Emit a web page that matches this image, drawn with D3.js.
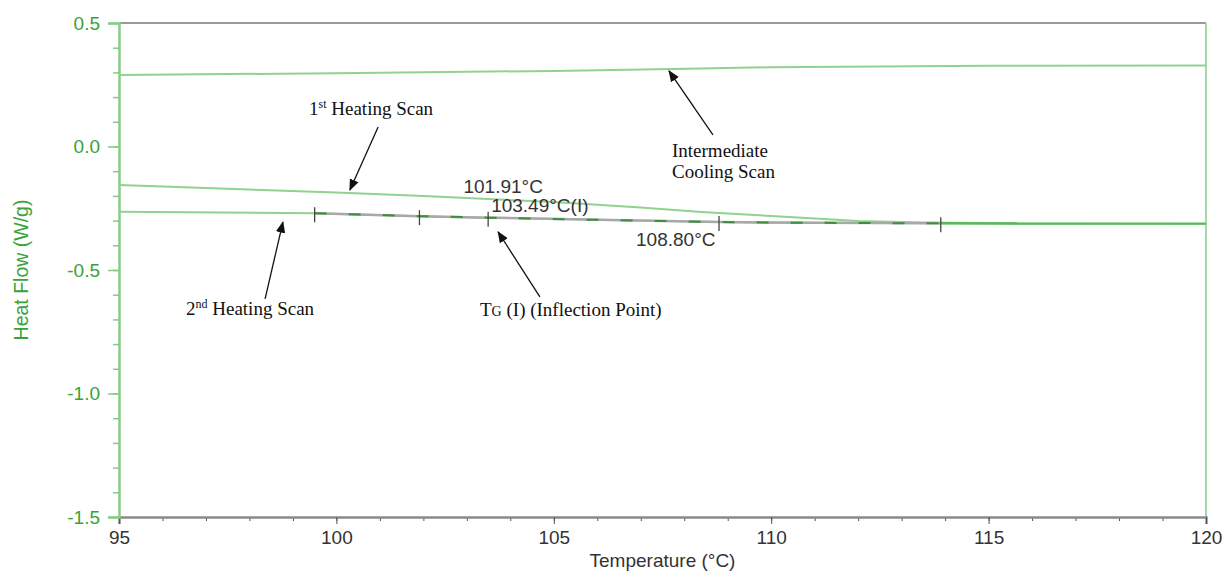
<!DOCTYPE html>
<html>
<head>
<meta charset="utf-8">
<script src="https://cdn.jsdelivr.net/npm/d3@7"></script>
<style>
  body { margin: 0; background: #fff; }
  svg { display: block; }
</style>
</head>
<body>
<svg id="chart"></svg>
<script>
const width = 1227;
const height = 574;
const margin = {top: 23, right: 21, bottom: 57, left: 119};

// temperatures (°C) and heat flow (W/g)
const coolT = [95, 100, 105, 108.4, 110, 115, 120];
const coolV = [0.289, 0.297, 0.306, 0.316, 0.321, 0.327, 0.328];

const heat1T = [95, 100, 102, 105, 107, 108.4, 110, 112, 113.5, 115, 120];
const heat1V = [-0.156, -0.186, -0.200, -0.225, -0.247, -0.265, -0.281, -0.302, -0.308, -0.310, -0.312];

const heat2T = [95, 99.5, 101.91, 103.49, 106, 108.8, 111, 113.9, 120];
const heat2V = [-0.264, -0.270, -0.282, -0.288, -0.297, -0.306, -0.309, -0.311, -0.312];

// analysis markers on the 2nd heating scan
const markT = [99.5, 101.91, 103.49, 108.8, 113.9];
const markLabels = [
  {t: 101.91, text: '101.91°C', dx: 44, dy: -23},
  {t: 103.49, text: '103.49°C(I)', dx: 3, dy: -6},
  {t: 108.8, text: '108.80°C', dx: -83, dy: 24}
];

const yMajor = [0.5, 0.0, -0.5, -1.0, -1.5];
const xMajor = [95, 100, 105, 110, 115, 120];

const green = '#8fd38f';
const axisGreen = '#86cc86';
const labelGreen = '#3aa23a';
const sans = '19px Arial, "Liberation Sans", sans-serif';

const svg = d3.select('#chart').attr('width', width).attr('height', height);

const x = d3.scaleLinear().domain([95, 120]).range([margin.left, width - margin.right]);
const y = d3.scaleLinear().domain([-1.5, 0.5]).range([height - margin.bottom, margin.top]);

const defs = svg.append('defs');
defs.append('marker').attr('id', 'arr')
  .attr('viewBox', '0 0 10 10').attr('refX', 9).attr('refY', 5)
  .attr('markerWidth', 9).attr('markerHeight', 9).attr('orient', 'auto')
  .append('path').attr('d', 'M0,1 L10,5 L0,9 Z').attr('fill', '#111');

// frame
svg.append('line').attr('x1', x(95)).attr('x2', x(120)).attr('y1', y(0.5)).attr('y2', y(0.5))
  .attr('stroke', '#9a9a9a').attr('stroke-width', 2);
svg.append('line').attr('x1', x(120)).attr('x2', x(120)).attr('y1', y(0.5)).attr('y2', y(-1.5))
  .attr('stroke', axisGreen).attr('stroke-width', 1.5);

// x axis
const xAxisG = svg.append('g').attr('transform', `translate(0, ${y(-1.5)})`);
xAxisG.call(d3.axisBottom(x).tickValues(d3.range(95, 121, 1)).tickSize(4).tickFormat(''));
xAxisG.call(g => g.selectAll('.tick line').attr('stroke', '#555'));
xAxisG.select('.domain').remove();
const xMajG = svg.append('g').attr('transform', `translate(0, ${y(-1.5)})`);
xMajG.call(d3.axisBottom(x).tickValues(xMajor).tickSize(7).tickPadding(7).tickFormat(d3.format('d')));
xMajG.select('.domain').attr('stroke', '#8a8a8a').attr('stroke-width', 2.5);
xMajG.selectAll('.tick line').attr('stroke', '#555');
xMajG.selectAll('.tick text').attr('fill', '#333').style('font', sans);

// y axis
const yMinG = svg.append('g').attr('transform', `translate(${x(95)}, 0)`);
yMinG.call(d3.axisLeft(y).tickValues(d3.range(-15, 6, 1).map(d => d / 10)).tickSize(6).tickFormat(''));
yMinG.select('.domain').remove();
yMinG.selectAll('.tick line').attr('stroke', axisGreen).attr('stroke-width', 1.5);
const yAxisG = svg.append('g').attr('transform', `translate(${x(95)}, 0)`);
yAxisG.call(d3.axisLeft(y).tickValues(yMajor).tickSize(11).tickPadding(8).tickFormat(d => d.toFixed(1)));
yAxisG.select('.domain').attr('stroke', axisGreen).attr('stroke-width', 2.5);
yAxisG.selectAll('.tick line').attr('stroke', axisGreen).attr('stroke-width', 1.5);
yAxisG.selectAll('.tick text').attr('fill', labelGreen).style('font', sans);

// axis titles
svg.append('text').attr('x', x(107.5)).attr('y', 567).attr('text-anchor', 'middle')
  .attr('fill', '#333').style('font', sans)
  .text('Temperature (°C)');
svg.append('text').attr('transform', `translate(28, ${y(-0.5)}) rotate(-90)`).attr('text-anchor', 'middle')
  .attr('fill', labelGreen).style('font', '19.5px Arial, "Liberation Sans", sans-serif')
  .text('Heat Flow (W/g)');

const line = d3.line().x(d => x(d[0])).y(d => y(d[1]));
const zip = (a, b) => a.map((t, i) => [t, b[i]]);

// curves
svg.append('path').datum(zip(coolT, coolV)).attr('d', line)
  .attr('fill', 'none').attr('stroke', green).attr('stroke-width', 2);
svg.append('path').datum(zip(heat1T, heat1V)).attr('d', line)
  .attr('fill', 'none').attr('stroke', green).attr('stroke-width', 2);

const heat2 = zip(heat2T, heat2V);
svg.append('path').datum(heat2).attr('d', line)
  .attr('fill', 'none').attr('stroke', green).attr('stroke-width', 2);

// analysis baseline and markers
const seg = heat2.filter(d => d[0] >= 99.5 && d[0] <= 113.9);
svg.append('path').datum(seg).attr('d', line)
  .attr('fill', 'none').attr('stroke', '#a8a8a8').attr('stroke-width', 2.5);
svg.append('path').datum(seg).attr('d', line)
  .attr('fill', 'none').attr('stroke', '#3d8f3d').attr('stroke-width', 2)
  .attr('stroke-dasharray', '12,22');
svg.append('path').datum(heat2.filter(d => d[0] >= 113.9)).attr('d', line)
  .attr('fill', 'none').attr('stroke', '#5cb85c').attr('stroke-width', 2.5);

const interp = d3.scaleLinear().domain(heat2T).range(heat2V);
svg.append('g').selectAll('line').data(markT).enter().append('line')
  .attr('x1', d => x(d)).attr('x2', d => x(d))
  .attr('y1', d => y(interp(d)) - 6).attr('y2', d => y(interp(d)) + 9)
  .attr('stroke', '#444').attr('stroke-width', 1.3);

svg.append('g').selectAll('text').data(markLabels).enter().append('text')
  .attr('x', d => x(d.t) + d.dx).attr('y', d => y(interp(d.t)) + d.dy)
  .attr('fill', '#333').style('font', sans)
  .text(d => d.text);

// callouts
const serif = '19px "Liberation Serif", "Times New Roman", serif';
const arrows = [
  {from: [100.96, 0.079], to: [100.31, -0.176]},
  {from: [108.66, 0.047], to: [107.65, 0.306]},
  {from: [98.36, -0.617], to: [98.77, -0.306]},
  {from: [104.68, -0.609], to: [103.72, -0.346]}
];
svg.append('g').selectAll('line').data(arrows).enter().append('line')
  .attr('x1', d => x(d.from[0])).attr('y1', d => y(d.from[1]))
  .attr('x2', d => x(d.to[0])).attr('y2', d => y(d.to[1]))
  .attr('stroke', '#111').attr('stroke-width', 1.3).attr('marker-end', 'url(#arr)');

const t1 = svg.append('text').attr('x', 309).attr('y', 115).style('font', serif).attr('fill', '#111');
t1.append('tspan').text('1');
t1.append('tspan').attr('dy', -7).style('font-size', '12px').text('st');
t1.append('tspan').attr('dy', 7).text(' Heating Scan');

svg.append('text').attr('x', 672).attr('y', 157).style('font', serif).attr('fill', '#111').text('Intermediate');
svg.append('text').attr('x', 672).attr('y', 178).style('font', serif).attr('fill', '#111').text('Cooling Scan');

const t2 = svg.append('text').attr('x', 186).attr('y', 315).style('font', serif).attr('fill', '#111');
t2.append('tspan').text('2');
t2.append('tspan').attr('dy', -7).style('font-size', '12px').text('nd');
t2.append('tspan').attr('dy', 7).text(' Heating Scan');

const t3 = svg.append('text').attr('x', 480).attr('y', 316).style('font', serif).attr('fill', '#111');
t3.append('tspan').text('T');
t3.append('tspan').style('font-size', '14px').text('G');
t3.append('tspan').text(' (I) (Inflection Point)');
</script>
</body>
</html>
